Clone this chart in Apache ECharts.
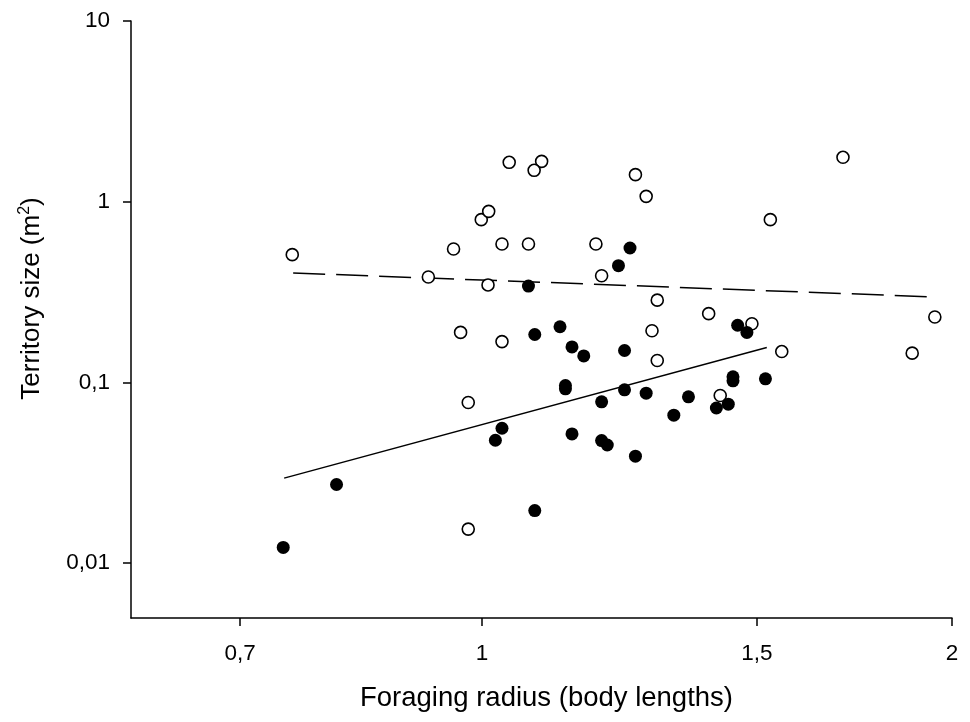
<!DOCTYPE html>
<html><head><meta charset="utf-8">
<script src="https://cdn.jsdelivr.net/npm/echarts@6/dist/echarts.min.js"></script>
<style>html,body{margin:0;padding:0;background:#fff}#c{width:970px;height:722px}</style>
</head><body><div id="c"></div>
<script>
// Open circles
const openX = [0.756, 0.924, 0.959, 0.999, 1.010, 1.041, 1.030, 1.009, 0.969, 1.030, 1.092, 1.080, 1.254, 1.274, 1.071, 1.183, 1.193, 1.295, 1.397, 1.285, 1.489, 1.295, 1.703, 1.530, 1.950, 1.556, 1.886, 0.980, 0.980, 1.421];
const openY = [0.509, 0.383, 0.547, 0.795, 0.884, 1.651, 0.583, 0.346, 0.189, 0.168, 1.672, 1.491, 1.411, 1.070, 0.583, 0.583, 0.389, 0.285, 0.240, 0.193, 0.211, 0.132, 1.760, 0.795, 0.230, 0.148, 0.145, 0.0773, 0.0154, 0.0845];
// Filled circles
const filledX = [0.746, 0.807, 1.030, 1.020, 1.081, 1.244, 1.223, 1.071, 1.122, 1.081, 1.142, 1.162, 1.234, 1.458, 1.478, 1.131, 1.131, 1.234, 1.274, 1.193, 1.356, 1.448, 1.448, 1.519, 1.327, 1.413, 1.438, 1.142, 1.193, 1.203, 1.254];
const filledY = [0.0122, 0.0272, 0.0557, 0.0478, 0.0195, 0.554, 0.442, 0.341, 0.203, 0.184, 0.157, 0.140, 0.150, 0.207, 0.189, 0.096, 0.092, 0.0909, 0.0871, 0.0780, 0.0831, 0.1073, 0.1019, 0.1045, 0.0658, 0.0721, 0.0757, 0.0518, 0.0476, 0.0450, 0.0390];
// Regression lines (end points)
const filledFitX = [0.747, 1.522];
const filledFitY = [0.0295, 0.156];
const openFitX = [0.757, 1.955];
const openFitY = [0.403, 0.2965];
// Ticks
const xTickValues = [0.7, 1, 1.5, 2];
const xTickLabels = ['0,7', '1', '1,5', '2'];
const yTickValues = [0.01, 0.1, 1, 10];
const yTickLabels = ['0,01', '0,1', '1', '10'];
const X_MIN = 0.596, X_MAX = 2, Y_MIN = 0.00496, Y_MAX = 10;

const FONT = 'Liberation Sans, Arial, sans-serif';
const zip = (a, b) => a.map((v, i) => [v, b[i]]);
const lg = v => Math.log10(v);
const xTickPos = xTickValues.map(lg);
const yTickPos = yTickValues.map(lg);
const labelFor = (vals, labels) => v => {
  const i = vals.findIndex(p => Math.abs(p - v) < 1e-6);
  return i >= 0 ? labels[i] : '';
};

const chart = echarts.init(document.getElementById('c'), null, {renderer: 'canvas'});
const axisLineStyle = {color: '#000', width: 1.5};
chart.setOption({
  animation: false,
  backgroundColor: '#fff',
  grid: {left: 131, right: 18, top: 21, bottom: 104, containLabel: false, outerBoundsMode: 'none'},
  xAxis: [
    {type: 'log', min: X_MIN, max: X_MAX, show: false, splitLine: {show: false}},
    {
      type: 'value', position: 'bottom', min: lg(X_MIN), max: lg(X_MAX),
      axisLine: {show: true, onZero: false, lineStyle: axisLineStyle},
      axisTick: {show: true, inside: false, length: 8, lineStyle: axisLineStyle, customValues: xTickPos},
      axisLabel: {customValues: xTickPos, margin: 24, color: '#000', fontSize: 22.5, fontFamily: FONT,
        formatter: labelFor(xTickPos, xTickLabels)},
      splitLine: {show: false},
      name: 'Foraging radius (body lengths)', nameLocation: 'middle', nameGap: 66,
      nameTextStyle: {color: '#000', fontSize: 27.5, fontFamily: FONT, padding: [0, 0, 0, 10]}
    }
  ],
  yAxis: [
    {type: 'log', min: Y_MIN, max: Y_MAX, show: false, splitLine: {show: false}},
    {
      type: 'value', position: 'left', min: lg(Y_MIN), max: lg(Y_MAX),
      axisLine: {show: true, onZero: false, lineStyle: axisLineStyle},
      axisTick: {show: true, inside: false, length: 8, lineStyle: axisLineStyle, customValues: yTickPos},
      axisLabel: {customValues: yTickPos, margin: 21, color: '#000', fontSize: 22.5, fontFamily: FONT,
        formatter: labelFor(yTickPos, yTickLabels)},
      splitLine: {show: false},
      name: 'Territory size (m{sup|2})', nameLocation: 'middle', nameGap: 84,
      nameTextStyle: {color: '#000', fontSize: 26, fontFamily: FONT, lineHeight: 30, padding: [0, 0, 0, 42],
        rich: {sup: {fontSize: 16, fontFamily: FONT, color: '#000', verticalAlign: 'top', lineHeight: 16}}}
    }
  ],
  series: [
    {
      type: 'line', xAxisIndex: 0, yAxisIndex: 0, data: zip(filledFitX, filledFitY),
      symbol: 'none', silent: true, z: 2,
      lineStyle: {color: '#000', width: 1.5}
    },
    {
      type: 'line', xAxisIndex: 0, yAxisIndex: 0, data: zip(openFitX, openFitY),
      symbol: 'none', silent: true, z: 2,
      lineStyle: {color: '#000', width: 1.5, type: [32, 11]}
    },
    {
      type: 'scatter', xAxisIndex: 0, yAxisIndex: 0, data: zip(openX, openY),
      symbol: 'circle', symbolSize: 12, z: 3, silent: true,
      itemStyle: {color: '#fff', borderColor: '#000', borderWidth: 1.6, opacity: 1}
    },
    {
      type: 'scatter', xAxisIndex: 0, yAxisIndex: 0, data: zip(filledX, filledY),
      symbol: 'circle', symbolSize: 13, z: 4, silent: true,
      itemStyle: {color: '#000', opacity: 1}
    }
  ]
});
</script>
</body></html>
